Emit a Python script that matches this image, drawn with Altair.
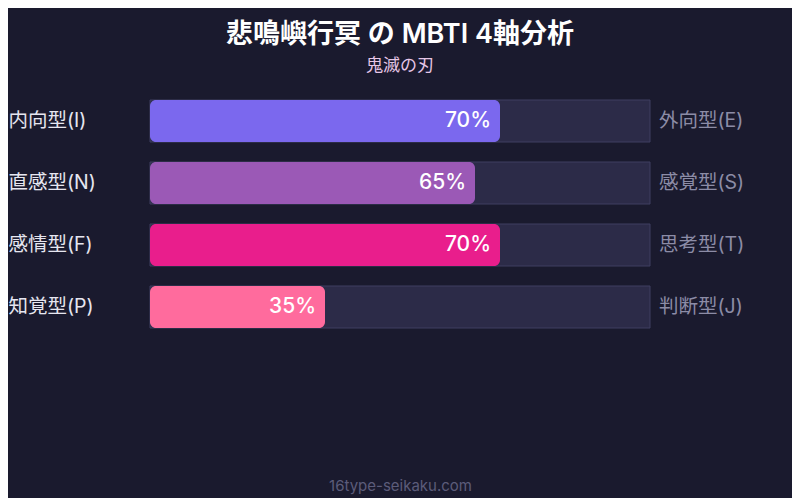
import altair as alt
import pandas as pd

left_labels = ["内向型(I)", "直感型(N)", "感情型(F)", "知覚型(P)"]
right_labels = ["外向型(E)", "感覚型(S)", "思考型(T)", "判断型(J)"]
values = [70, 65, 70, 35]
bar_colors = ["#7b68ee", "#9b59b6", "#e91e8c", "#ff6b9d"]

df = pd.DataFrame({
    "left": left_labels,
    "right": right_labels,
    "value": values,
    "full": [100] * len(values),
    "zero": [0] * len(values),
    "pct": [f"{v}%" for v in values],
})

FONT = "Inter, 'Noto Sans CJK JP', sans-serif"

y_enc = alt.Y(
    "left:N",
    sort=left_labels,
    scale=alt.Scale(paddingInner=20 / 62, paddingOuter=10 / 62),
    axis=alt.Axis(
        title=None, ticks=False, tickSize=0, domain=False, grid=False,
        labelAlign="left", labelPadding=142, labelFontSize=19.5,
        labelColor="#e6e6f0", labelFont=FONT, labelBaseline="middle",
    ),
)
x_scale = alt.Scale(domain=[0, 100])
x_axis = alt.Axis(
    title="16type-seikaku.com", labels=False, ticks=False, domain=False,
    grid=False, titleFontSize=15, titleColor="#5c5c7a", titleFont=FONT,
    titleFontWeight="normal", titlePadding=140,
)

base = alt.Chart(df)

track = base.mark_bar(fill="#2c2b48", stroke="#3f3e60", strokeWidth=1).encode(
    x=alt.X("zero:Q", scale=x_scale, axis=x_axis),
    x2="full:Q",
    y=y_enc,
)

bars = base.mark_bar(cornerRadius=6).encode(
    x=alt.X("zero:Q", scale=x_scale, axis=x_axis),
    x2="value:Q",
    y=y_enc,
    color=alt.Color("left:N", sort=left_labels,
                    scale=alt.Scale(domain=left_labels, range=bar_colors),
                    legend=None),
)

pct = base.mark_text(align="right", dx=-9, fontSize=21, fontWeight=500,
                     color="#ffffff", font=FONT, baseline="middle").encode(
    x=alt.X("value:Q", scale=x_scale),
    y=y_enc,
    text="pct:N",
)

right = base.mark_text(align="left", dx=9, fontSize=19.5, color="#8c8ca6",
                       font=FONT, baseline="middle").encode(
    x=alt.X("full:Q", scale=x_scale),
    y=y_enc,
    text="right:N",
)

chart = alt.layer(track, bars, pct, right).properties(
    width=500,
    height=248,
    padding={"left": 142, "top": 82, "right": 142, "bottom": 160},
    autosize=alt.AutoSizeParams(type="none"),
    background="#1a1a2e",
    title=alt.Title(
        text="悲鳴嶼行冥 の MBTI 4軸分析",
        subtitle="鬼滅の刃",
        anchor="middle",
        font=FONT,
        fontSize=27,
        fontWeight=600,
        color="#ffffff",
        subtitleFont=FONT,
        subtitleFontSize=17,
        subtitleColor="#e6c6e6",
        subtitlePadding=9,
        offset=15,
    ),
).configure_view(stroke=None)

chart.save("out.html", embed_options={"renderer": "svg", "actions": False})
